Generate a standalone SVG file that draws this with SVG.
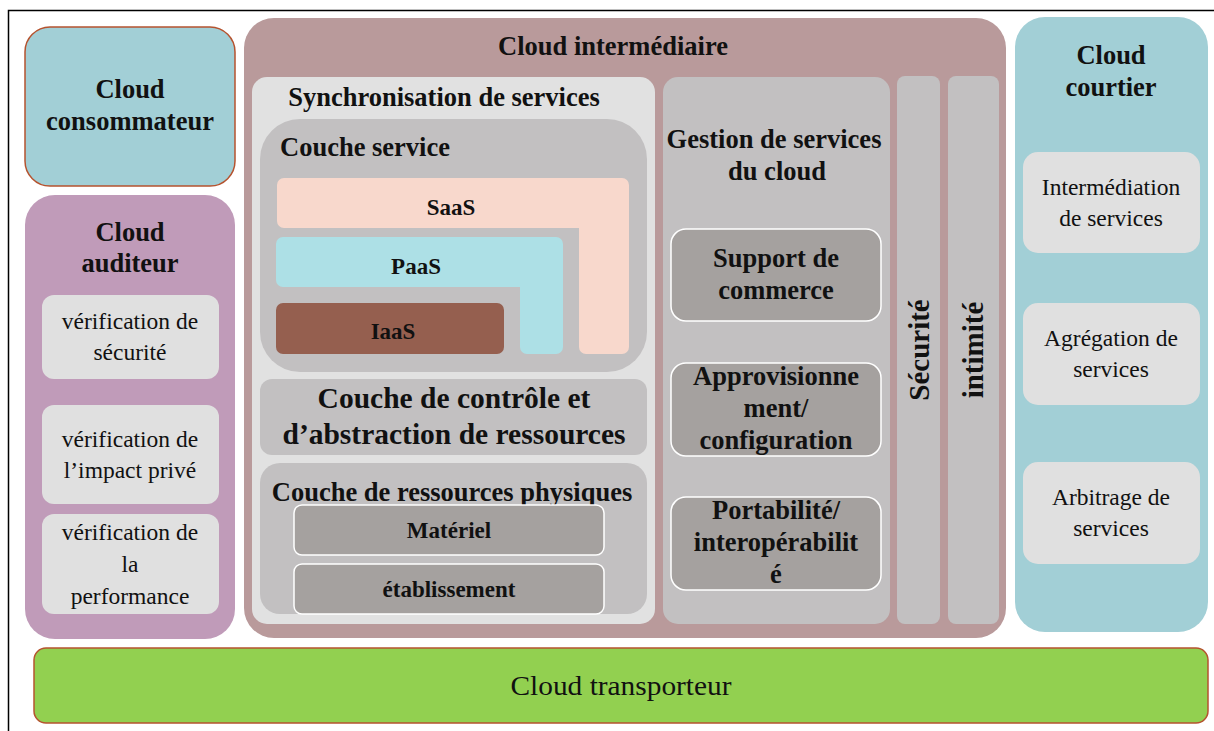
<svg xmlns="http://www.w3.org/2000/svg" width="1214" height="731" viewBox="0 0 1214 731">
<style>
text{font-family:"Liberation Serif","Times New Roman",serif;fill:#111;text-anchor:middle}
.b{font-weight:bold}
.h{font-size:26.5px;font-weight:bold}
.n{font-size:23.5px}
.s{font-size:23px;font-weight:bold}
.v{font-size:29px;font-weight:bold}
.gbox{fill:#c2c0c1}
.dk{fill:#a5a19f;stroke:#fff;stroke-width:1.5}
.lt{fill:#e0e0e0}
</style>
<rect width="1214" height="731" fill="#fff"/>
<path d="M8.5 731V10.5H1214" fill="none" stroke="#000" stroke-width="1.5"/>

<g id="consommateur">
<rect x="25" y="27" width="210" height="159" rx="25" fill="#a2cfd6" stroke="#b5532f" stroke-width="1.5"/>
<text class="h" x="130" y="98">Cloud</text>
<text class="h" x="130" y="130">consommateur</text>
</g>

<g id="auditeur">
<rect x="25" y="195" width="210" height="444" rx="30" fill="#c09bb9"/>
<text class="h" x="130" y="241">Cloud</text>
<text class="h" x="130" y="272">auditeur</text>
<g id="aud1"><rect class="lt" x="42" y="295" width="177" height="84" rx="12"/>
<text class="n" x="130" y="329">vérification de</text><text class="n" x="130" y="360">sécurité</text></g>
<g id="aud2"><rect class="lt" x="42" y="405" width="177" height="99" rx="12"/>
<text class="n" x="130" y="447">vérification de</text><text class="n" x="130" y="478">l’impact privé</text></g>
<g id="aud3"><rect class="lt" x="42" y="514" width="177" height="100" rx="12"/>
<text class="n" x="130" y="540">vérification de</text><text class="n" x="130" y="572">la</text><text class="n" x="130" y="604">performance</text></g>
</g>

<g id="intermediaire">
<rect x="244" y="18" width="762" height="620" rx="30" fill="#b99a9b"/>
<text class="h" x="613" y="55">Cloud intermédiaire</text>

<g id="synchronisation">
<rect x="252" y="77" width="403" height="547" rx="15" fill="#e1e1e1"/>
<text class="h" x="444" y="106">Synchronisation de services</text>
<g id="couche-service">
<rect class="gbox" x="260" y="119" width="387" height="253" rx="40"/>
<text class="h" x="280" y="156" style="text-anchor:start">Couche service</text>
<g id="saas"><path d="M284 178H622a7 7 0 0 1 7 7V347a7 7 0 0 1-7 7H586a7 7 0 0 1-7-7V228H284a7 7 0 0 1-7-7V185a7 7 0 0 1 7-7Z" fill="#f8d8cc"/>
<text class="s" x="451" y="215">SaaS</text></g>
<g id="paas"><path d="M283 237H556a7 7 0 0 1 7 7V347a7 7 0 0 1-7 7H527a7 7 0 0 1-7-7V287H283a7 7 0 0 1-7-7V244a7 7 0 0 1 7-7Z" fill="#ade0e6"/>
<text class="s" x="416" y="274">PaaS</text></g>
<g id="iaas"><rect x="276" y="303" width="228" height="51" rx="7" fill="#955f4f"/>
<text class="s" x="393" y="339">IaaS</text></g>
</g>
<g id="controle">
<rect class="gbox" x="260" y="379" width="387" height="76" rx="12"/>
<text class="b" x="454" y="408" font-size="29.5">Couche de contrôle et</text>
<text class="b" x="454" y="444" font-size="29.5">d’abstraction de ressources</text>
</g>
<g id="physiques">
<rect class="gbox" x="260" y="463" width="387" height="151" rx="20"/>
<text class="h" x="452" y="501">Couche de ressources physiques</text>
<g id="materiel"><rect class="dk" x="294" y="505" width="310" height="50" rx="8"/>
<text class="s" x="449" y="538">Matériel</text></g>
<g id="etablissement"><rect class="dk" x="294" y="564" width="310" height="50" rx="8"/>
<text class="s" x="449" y="597">établissement</text></g>
</g>
</g>

<g id="gestion">
<rect class="gbox" x="663" y="77" width="227" height="547" rx="15"/>
<text class="h" x="774" y="148">Gestion de services</text>
<text class="h" x="777" y="180">du cloud</text>
<g id="support"><rect class="dk" x="671" y="229" width="210" height="92" rx="15"/>
<text class="h" x="776" y="267">Support de</text><text class="h" x="776" y="299">commerce</text></g>
<g id="approvisionnement"><rect class="dk" x="671" y="363" width="210" height="93" rx="15"/>
<text class="h" x="776" y="385">Approvisionne</text><text class="h" x="776" y="417">ment/</text><text class="h" x="776" y="449">configuration</text></g>
<g id="portabilite"><rect class="dk" x="671" y="497" width="210" height="93" rx="15"/>
<text class="h" x="776" y="519">Portabilité/</text><text class="h" x="776" y="551">interopérabilit</text><text class="h" x="776" y="583">é</text></g>
</g>

<g id="securite">
<rect class="gbox" x="897" y="76" width="43" height="548" rx="8"/>
<text class="v" transform="translate(929 350) rotate(-90)">Sécurité</text>
</g>
<g id="intimite">
<rect class="gbox" x="948" y="76" width="51" height="548" rx="8"/>
<text class="v" transform="translate(983 350) rotate(-90)">intimité</text>
</g>
</g>

<g id="courtier">
<rect x="1015" y="17" width="193" height="615" rx="30" fill="#a2cfd6"/>
<text class="h" x="1111" y="64">Cloud</text>
<text class="h" x="1111" y="96">courtier</text>
<g id="c1"><rect class="lt" x="1023" y="152" width="177" height="101" rx="15"/>
<text class="n" x="1111" y="195">Intermédiation</text><text class="n" x="1111" y="226">de services</text></g>
<g id="c2"><rect class="lt" x="1023" y="303" width="177" height="102" rx="15"/>
<text class="n" x="1111" y="346">Agrégation de</text><text class="n" x="1111" y="377">services</text></g>
<g id="c3"><rect class="lt" x="1023" y="462" width="177" height="102" rx="15"/>
<text class="n" x="1111" y="505">Arbitrage de</text><text class="n" x="1111" y="536">services</text></g>
</g>

<g id="transporteur">
<rect x="34" y="648" width="1174" height="75" rx="12" fill="#92d050" stroke="#b5532f" stroke-width="1.5"/>
<text x="621" y="695" font-size="27" textLength="221" lengthAdjust="spacingAndGlyphs">Cloud transporteur</text>
</g>
<g id="connectors"/>
</svg>
